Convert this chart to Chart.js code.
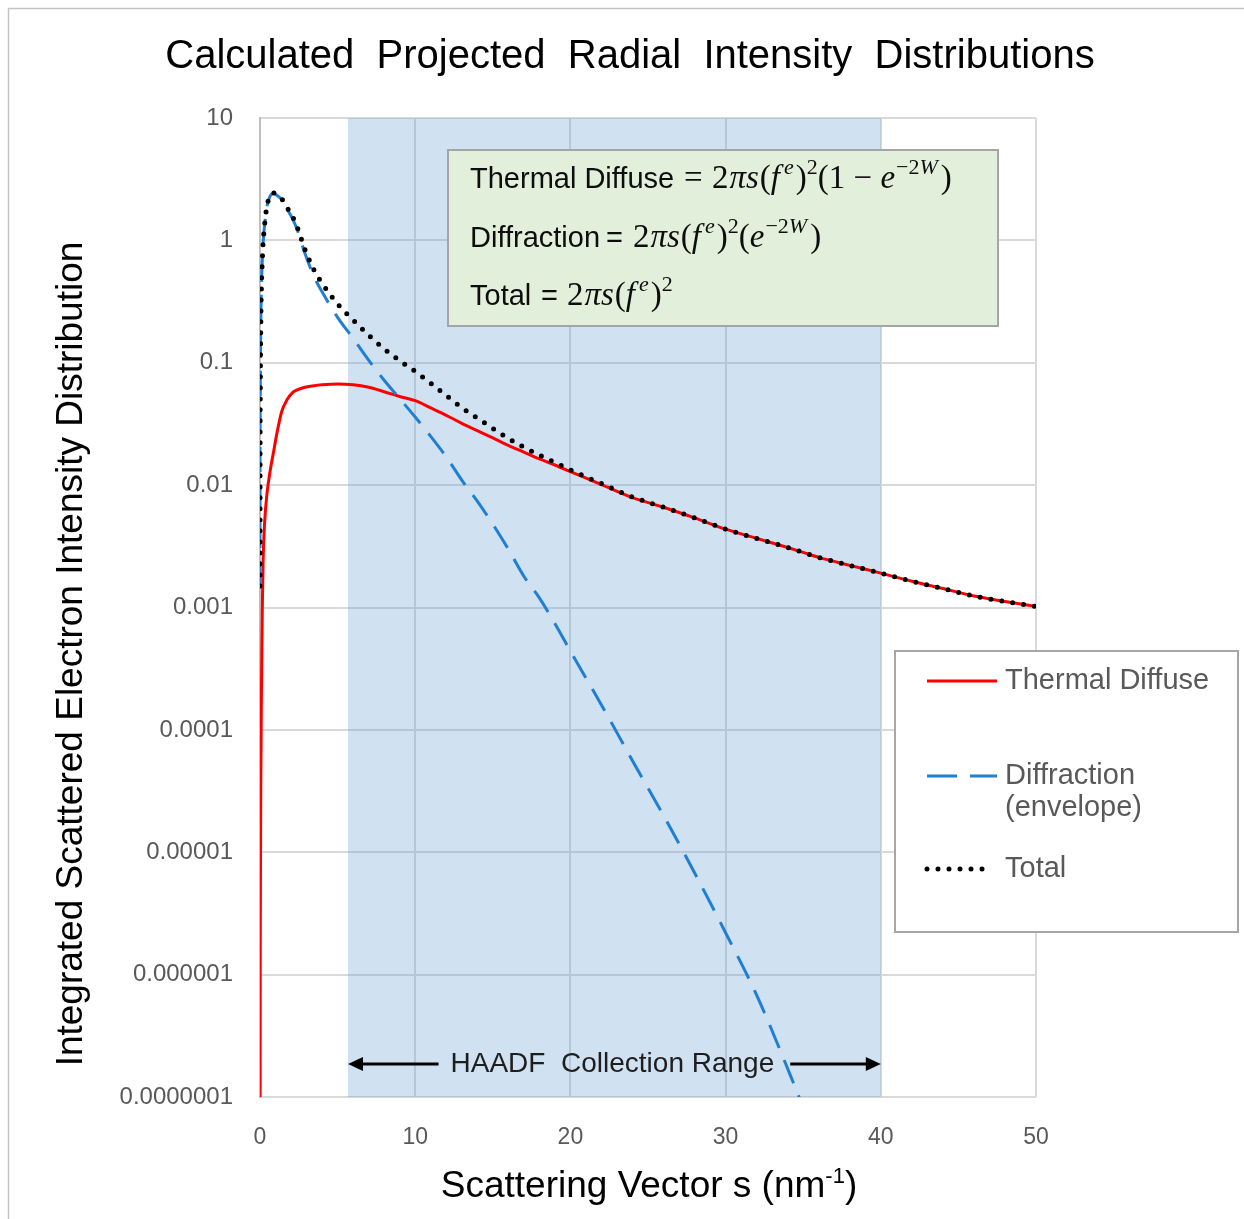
<!DOCTYPE html>
<html><head><meta charset="utf-8">
<script src="https://cdn.jsdelivr.net/npm/chart.js@4.4.1/dist/chart.umd.min.js"></script>
<style>html,body{margin:0;padding:0;background:#fff;}canvas{display:block;}</style>
</head><body>
<canvas id="c" width="1244" height="1219"></canvas>
<script>
// ---- data ----
const scatteringVector = [0.0005, 0.005, 0.02, 0.05, 0.1, 0.15, 0.2, 0.3, 0.45, 0.65, 0.85, 1.1, 1.4, 1.75, 2.1, 2.4, 2.9, 3.5, 4, 5, 6, 7, 8, 9, 10, 11, 12, 13, 14, 15, 16, 17, 18, 19, 20, 22, 24, 26, 28, 30, 32, 34, 35, 36, 38, 40, 42, 44, 46, 48, 50];
const thermalDiffuse = [4e-11, 4e-8, 2.4e-6, 3.5e-5, 2.5e-4, 0.001, 0.0024, 0.005, 0.0085, 0.013, 0.018, 0.027, 0.040, 0.050, 0.057, 0.060, 0.063, 0.065, 0.066, 0.067, 0.066, 0.063, 0.058, 0.053, 0.049, 0.0427, 0.0372, 0.032, 0.0279, 0.0243, 0.0211, 0.0186, 0.0164, 0.0146, 0.0129, 0.0101, 0.0079, 0.0066, 0.0054, 0.00437, 0.00367, 0.00309, 0.00282, 0.00257, 0.00221, 0.00191, 0.00164, 0.00143, 0.00124, 0.00112, 0.00102];
const diffraction = [0.0015, 0.015, 0.06, 0.2, 0.45, 0.7, 0.95, 1.35, 1.9, 2.3, 2.42, 2.33, 2.15, 1.8, 1.5, 1.22, 0.78, 0.5, 0.38, 0.235, 0.158, 0.105, 0.072, 0.051, 0.036, 0.025, 0.017, 0.011, 0.0074, 0.0048, 0.0030, 0.0018, 0.0012, 0.00074, 0.00044, 0.00016, 5.6e-5, 2.0e-5, 6.8e-6, 2.2e-6, 6.8e-7, 1.7e-7, 8e-8, 3e-8, null, null, null, null, null, null, null];
const total = [0.0015, 0.015, 0.06, 0.2, 0.45, 0.7, 0.95, 1.36, 1.91, 2.31, 2.44, 2.36, 2.19, 1.85, 1.56, 1.28, 0.84, 0.565, 0.446, 0.302, 0.224, 0.168, 0.13, 0.104, 0.085, 0.068, 0.054, 0.043, 0.0353, 0.0291, 0.0241, 0.0204, 0.0176, 0.0153, 0.0133, 0.0103, 0.0080, 0.0066, 0.0054, 0.00437, 0.00367, 0.00309, 0.00282, 0.00257, 0.00221, 0.00191, 0.00164, 0.00143, 0.00124, 0.00112, 0.00102];
const seriesNames = ['Thermal Diffuse', 'Diffraction', 'Total'];
const legendLabels = [['Thermal Diffuse'], ['Diffraction', '(envelope)'], ['Total']];
const yTickValues = [1e-7, 1e-6, 1e-5, 1e-4, 1e-3, 1e-2, 1e-1, 1, 10];
const yTickLabels = ['0.0000001', '0.000001', '0.00001', '0.0001', '0.001', '0.01', '0.1', '1', '10'];
const xTickValues = [0, 10, 20, 30, 40, 50];
const haadfRange = [5.67, 40];
const titleText = 'Calculated  Projected  Radial  Intensity  Distributions';
const xAxisTitle = 'Scattering Vector s (nm';
const yAxisTitle = 'Integrated Scattered Electron Intensity Distribution';
const annotationText = 'HAADF  Collection Range';

const SANSF = '"Liberation Sans", Arial, sans-serif';
const SERIF = '"Liberation Serif", "DejaVu Serif", serif';
Chart.defaults.font.family = SANSF;

function pts(ys) { return scatteringVector.map((x, i) => ({x: x, y: ys[i]})); }

function drawRuns(ctx, x, y, runs) {
  for (const r of runs) {
    ctx.font = r.f;
    ctx.fillText(r.t, x, y - (r.up || 0));
    x += ctx.measureText(r.t).width + (r.gap || 0);
  }
  return x;
}

const deco = {
  id: 'deco',
  beforeDraw(chart) {
    const ctx = chart.ctx;
    ctx.save();
    ctx.fillStyle = '#ffffff';
    ctx.fillRect(0, 0, chart.width, chart.height);
    ctx.strokeStyle = '#c4c4c4';
    ctx.lineWidth = 1.5;
    ctx.strokeRect(8.5, 8.5, 1300, 1300);
    ctx.restore();
  },
  beforeDatasetsDraw(chart) {
    const ctx = chart.ctx, xs = chart.scales.x, a = chart.chartArea;
    const x0 = xs.getPixelForValue(haadfRange[0]), x1 = xs.getPixelForValue(haadfRange[1]);
    ctx.save();
    ctx.fillStyle = 'rgba(100,155,210,0.30)';
    ctx.fillRect(x0, a.top, x1 - x0, a.bottom - a.top);
    const y = 1064;
    ctx.font = '28px ' + SANSF;
    ctx.fillStyle = '#1e1e1e';
    ctx.textAlign = 'center';
    ctx.textBaseline = 'middle';
    const cx = (x0 + x1) / 2 - 2;
    ctx.fillText(annotationText, cx, y);
    const tw = ctx.measureText(annotationText).width;
    ctx.strokeStyle = '#000';
    ctx.fillStyle = '#000';
    ctx.lineWidth = 3;
    const l1 = cx - tw / 2 - 12, r1 = cx + tw / 2 + 16;
    ctx.beginPath(); ctx.moveTo(l1, y); ctx.lineTo(x0 + 10, y); ctx.stroke();
    ctx.beginPath(); ctx.moveTo(r1, y); ctx.lineTo(x1 - 10, y); ctx.stroke();
    ctx.beginPath(); ctx.moveTo(x0, y); ctx.lineTo(x0 + 15, y - 7); ctx.lineTo(x0 + 15, y + 7); ctx.closePath(); ctx.fill();
    ctx.beginPath(); ctx.moveTo(x1, y); ctx.lineTo(x1 - 15, y - 7); ctx.lineTo(x1 - 15, y + 7); ctx.closePath(); ctx.fill();
    ctx.restore();
  },
  afterDraw(chart) {
    const ctx = chart.ctx;
    ctx.save();
    ctx.fillStyle = '#000';
    ctx.textAlign = 'center';
    ctx.textBaseline = 'alphabetic';
    ctx.font = '40px ' + SANSF;
    ctx.fillText(titleText, 630, 68);
    ctx.save();
    ctx.translate(72, 654);
    ctx.rotate(-Math.PI / 2);
    ctx.font = '37px ' + SANSF;
    ctx.textBaseline = 'middle';
    ctx.fillText(yAxisTitle, 0, 0);
    ctx.restore();
    ctx.textAlign = 'left';
    const xf = '37px ' + SANSF, xs = '22px ' + SANSF;
    ctx.font = xf; let w = ctx.measureText(xAxisTitle).width + ctx.measureText(')').width;
    ctx.font = xs; w += ctx.measureText('-1').width;
    drawRuns(ctx, 649 - w / 2, 1197, [{t: xAxisTitle, f: xf}, {t: '-1', f: xs, up: 14}, {t: ')', f: xf}]);

    // formula box
    ctx.fillStyle = '#e2efda';
    ctx.fillRect(448, 150, 550, 176);
    ctx.strokeStyle = '#a5a5a5';
    ctx.lineWidth = 2;
    ctx.strokeRect(448, 150, 550, 176);
    ctx.fillStyle = '#0d0d0d';
    const S = '29px ' + SANSF, MU = '33px ' + SERIF, MI = 'italic 33px ' + SERIF, SU = '22px ' + SERIF, SI = 'italic 22px ' + SERIF;
    drawRuns(ctx, 470, 188, [{t: 'Thermal Diffuse', f: S}]);
    drawRuns(ctx, 684, 188, [{t: '=', f: MU}]);
    drawRuns(ctx, 712, 188, [{t: '2', f: MU, gap: 1}, {t: 'πs', f: MI, gap: 1}, {t: '(', f: MU}, {t: 'f', f: MI, gap: 4}, {t: 'e', f: SI, up: 14, gap: 2}, {t: ')', f: MU}, {t: '2', f: SU, up: 14}, {t: '(1 − ', f: MU}, {t: 'e', f: MI, gap: 1}, {t: '−2', f: SU, up: 14}, {t: 'W', f: SI, up: 14, gap: 3}, {t: ')', f: MU}]);
    drawRuns(ctx, 470, 247, [{t: 'Diffraction', f: S}]);
    drawRuns(ctx, 606, 247, [{t: '=', f: S}]);
    drawRuns(ctx, 633, 247, [{t: '2', f: MU, gap: 1}, {t: 'πs', f: MI, gap: 1}, {t: '(', f: MU}, {t: 'f', f: MI, gap: 4}, {t: 'e', f: SI, up: 14, gap: 2}, {t: ')', f: MU}, {t: '2', f: SU, up: 14}, {t: '(', f: MU}, {t: 'e', f: MI, gap: 1}, {t: '−2', f: SU, up: 14}, {t: 'W', f: SI, up: 14, gap: 3}, {t: ')', f: MU}]);
    drawRuns(ctx, 470, 305, [{t: 'Total', f: S}]);
    drawRuns(ctx, 541, 305, [{t: '=', f: S}]);
    drawRuns(ctx, 567, 305, [{t: '2', f: MU, gap: 1}, {t: 'πs', f: MI, gap: 1}, {t: '(', f: MU}, {t: 'f', f: MI, gap: 4}, {t: 'e', f: SI, up: 14, gap: 2}, {t: ')', f: MU}, {t: '2', f: SU, up: 14}]);

    // legend
    ctx.fillStyle = '#ffffff';
    ctx.fillRect(895, 651, 343, 281);
    ctx.strokeStyle = '#a6a6a6';
    ctx.lineWidth = 2;
    ctx.strokeRect(895, 651, 343, 281);
    const rows = [681, 776, 869];
    chart.data.datasets.forEach((ds, i) => {
      const y = rows[i];
      ctx.save();
      ctx.strokeStyle = ds.borderColor;
      ctx.lineWidth = ds.borderWidth;
      ctx.lineCap = ds.borderCapStyle || 'butt';
      ctx.setLineDash(i === 1 ? [30, 13] : (ds.borderDash || []));
      ctx.beginPath(); ctx.moveTo(927, y); ctx.lineTo(i === 2 ? 990 : 997, y); ctx.stroke();
      ctx.restore();
      ctx.fillStyle = '#595959';
      ctx.font = '29px ' + SANSF;
      ctx.textBaseline = 'middle';
      ctx.textAlign = 'left';
      legendLabels[i].forEach((t, k) => ctx.fillText(t, 1005, y + k * 32));
    });
    ctx.restore();
  }
};

new Chart(document.getElementById('c'), {
  type: 'line',
  data: {
    datasets: [
      {label: seriesNames[0], data: pts(thermalDiffuse), borderColor: '#ff0000', borderWidth: 3, pointRadius: 0, cubicInterpolationMode: 'monotone', order: 2},
      {label: seriesNames[1], data: pts(diffraction), borderColor: '#1f7fd2', borderWidth: 3, borderDash: [25, 13], pointRadius: 0, cubicInterpolationMode: 'monotone', order: 1},
      {label: seriesNames[2], data: pts(total), borderColor: '#000000', borderWidth: 5, borderDash: [0, 11], borderCapStyle: 'round', borderJoinStyle: 'round', pointRadius: 0, cubicInterpolationMode: 'monotone', order: 0}
    ]
  },
  options: {
    responsive: false,
    animation: false,
    devicePixelRatio: 1,
    layout: {padding: {top: 118, right: 208, left: 0, bottom: 0}},
    plugins: {legend: {display: false}, tooltip: {enabled: false}, title: {display: false}},
    scales: {
      x: {
        type: 'linear', min: 0, max: 50,
        afterBuildTicks: s => { s.ticks = xTickValues.map(v => ({value: v})); },
        afterFit: s => { s.height = 122; },
        ticks: {font: {size: 23}, color: '#595959', padding: 27, maxRotation: 0, callback: v => String(v)},
        grid: {color: '#d9d9d9', lineWidth: 2, drawTicks: false},
        border: {display: false}
      },
      y: {
        type: 'logarithmic', min: 1e-7, max: 10,
        afterBuildTicks: s => { s.ticks = yTickValues.map(v => ({value: v})); },
        afterFit: s => { s.width = 260; },
        ticks: {font: {size: 24}, color: '#595959', padding: 27, callback: v => { const i = yTickValues.findIndex(t => Math.abs(Math.log10(t) - Math.log10(v)) < 1e-6); return i >= 0 ? yTickLabels[i] : ''; }},
        grid: {color: '#d9d9d9', lineWidth: 2, drawTicks: false},
        border: {display: true, color: '#bfbfbf', width: 2}
      }
    }
  },
  plugins: [deco]
});
</script>
</body></html>
